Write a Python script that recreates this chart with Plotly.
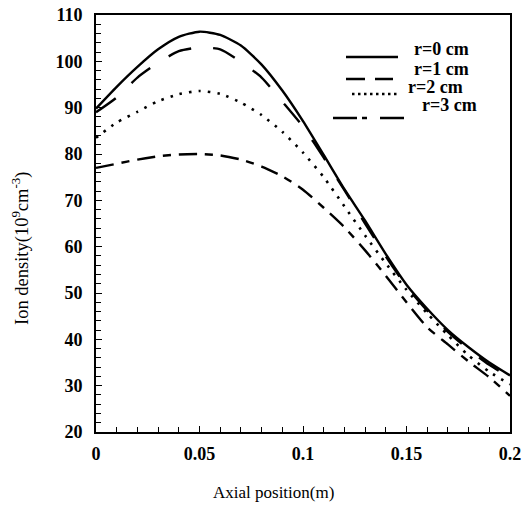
import plotly.graph_objects as go

axial_position = [0.00, 0.01, 0.02, 0.03, 0.04, 0.05, 0.06, 0.07, 0.08, 0.09, 0.10,
                  0.11, 0.12, 0.13, 0.14, 0.15, 0.16, 0.17, 0.18, 0.19, 0.20]
density_r0 = [89.8, 94.5, 98.8, 102.6, 105.3, 106.4, 105.7, 103.4, 99.3, 93.7, 87.1,
              79.8, 72.4, 65.6, 58.4, 51.8, 46.6, 42.0, 38.3, 35.0, 32.2]
density_r1 = [89.0, 92.2, 96.5, 99.7, 102.2, 103.0, 102.6, 99.9, 96.5, 91.3, 85.9,
              79.2, 72.2, 65.0, 57.9, 51.4, 46.2, 41.6, 37.8, 34.5, 31.7]
density_r2 = [83.5, 86.8, 89.1, 91.4, 92.9, 93.6, 93.0, 91.1, 88.4, 84.8, 80.3,
              75.0, 68.7, 62.4, 56.4, 50.7, 45.6, 40.9, 36.5, 33.0, 30.3]
density_r3 = [77.0, 77.9, 78.8, 79.5, 79.9, 80.0, 79.7, 78.8, 77.3, 75.2, 72.3,
              68.4, 64.2, 59.2, 53.7, 48.0, 42.6, 38.9, 35.2, 31.8, 27.8]
series_names = ["r=0 cm", "r=1 cm", "r=2 cm", "r=3 cm"]
x_tick_vals = [0, 0.05, 0.1, 0.15, 0.2]
x_tick_text = ["0", "0.05", "0.1", "0.15", "0.2"]
y_tick_vals = [20, 30, 40, 50, 60, 70, 80, 90, 100, 110]
x_title = "Axial position(m)"
y_title = "Ion density(10<sup>9</sup>cm<sup>-3</sup>)"

series = [density_r0, density_r1, density_r2, density_r3]
dashes = ["solid", "24px,22px", "2.5px,7px", "18px,8px,8px,8px"]
legend_dashes = ["solid", "19px,10px", "2.5px,3.5px", "24px,5px,5px,13px"]
widths = [2.4, 2.4, 2.6, 2.4]

serif = "Liberation Serif, Times New Roman, serif"

fig = go.Figure()
for name, ys, d, w in zip(series_names, series, dashes, widths):
    fig.add_trace(go.Scatter(
        x=axial_position, y=ys, mode="lines", name=name, showlegend=False,
        line=dict(color="black", width=w, dash=d, shape="spline", smoothing=0.6),
    ))

axis_common = dict(
    showline=True, linecolor="black", linewidth=2, mirror=True,
    showgrid=False, zeroline=False, ticks="inside", tickcolor="black",
    tickwidth=1.2, ticklen=6, automargin=False,
    tickfont=dict(family=serif, size=18, color="black", weight="bold"),
)

fig.update_xaxes(
    range=[0, 0.2], tickvals=x_tick_vals, ticktext=x_tick_text,
    minor=dict(dtick=0.01, ticks="inside", ticklen=5, tickcolor="black", tickwidth=1.2),
    ticklabelstandoff=4,
    **axis_common,
)
fig.update_yaxes(
    range=[20, 110], tickvals=y_tick_vals,
    minor=dict(dtick=2, ticks="inside", ticklen=5, tickcolor="black", tickwidth=1.2),
    ticklabelstandoff=8,
    **axis_common,
)

# plot area on the page: x 96..510, y 15..432
def px_to_paper(px, py):
    return (px - 96) / 414.0, (432 - py) / 417.0

annotations = []
shapes = []
ax, ay = px_to_paper(273, 492)
annotations.append(dict(text=x_title, x=ax, y=ay, xref="paper", yref="paper",
                        showarrow=False, xanchor="center", yanchor="middle",
                        font=dict(family=serif, size=17, color="black")))
ax, ay = px_to_paper(20, 249)
annotations.append(dict(text=y_title, x=ax, y=ay, xref="paper", yref="paper",
                        showarrow=False, xanchor="center", yanchor="middle", textangle=-90,
                        font=dict(family=serif, size=18.5, color="black")))

# legend (sample line x0, x1, y ; text left, text centre y)
legend_layout = [
    (346, 398, 57, 412, 49),
    (346, 393, 79, 412, 69),
    (352, 398, 94, 406, 87),
    (333, 407, 118, 420, 105),
]
for name, d, w, (lx0, lx1, ly, tx, ty) in zip(series_names, legend_dashes, widths, legend_layout):
    x0, y0 = px_to_paper(lx0, ly)
    x1, _ = px_to_paper(lx1, ly)
    shapes.append(dict(type="line", xref="paper", yref="paper", x0=x0, x1=x1, y0=y0, y1=y0,
                       line=dict(color="black", width=w, dash=d)))
    tx_p, ty_p = px_to_paper(tx, ty)
    annotations.append(dict(text=name, x=tx_p, y=ty_p, xref="paper", yref="paper",
                            showarrow=False, xanchor="left", yanchor="middle",
                            font=dict(family=serif, size=18, color="black", weight="bold")))

fig.update_layout(
    width=522, height=506,
    margin=dict(l=96, r=12, t=15, b=74),
    paper_bgcolor="white", plot_bgcolor="white",
    showlegend=False,
    annotations=annotations,
    shapes=shapes,
)

fig.write_html(
    "out.html",
    config={"displayModeBar": False},
    post_script="document.body.style.margin='0';document.body.style.overflow='hidden';",
)
